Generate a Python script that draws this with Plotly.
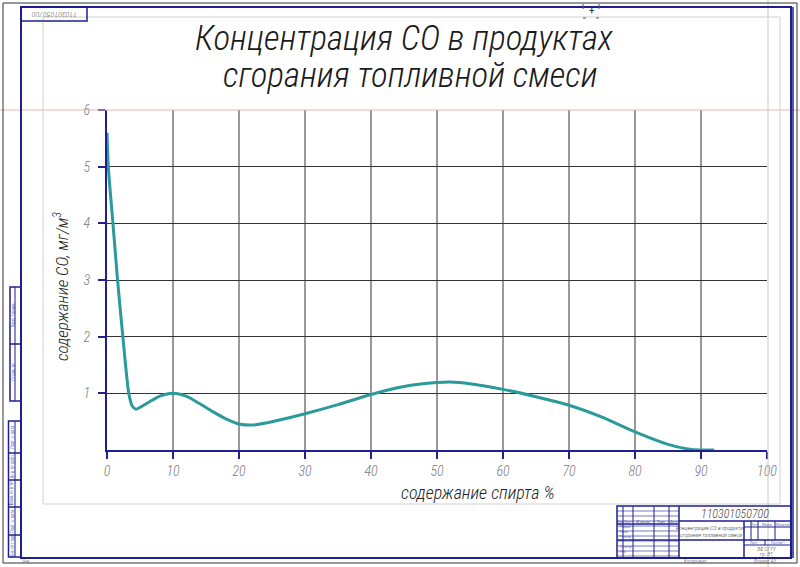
import plotly.graph_objects as go

# ---- data ----
spirit_pct = [0, 0.2, 0.9, 1.6, 2.4, 3.3, 3.8, 4.4, 6, 8, 10, 12, 14, 16, 18, 20, 22, 25,
              30, 35, 40, 45, 50, 52, 55, 60, 65, 70, 75, 80, 85, 88, 90, 92]
co_content = [5.6, 5.0, 4.0, 3.0, 2.0, 1.0, 0.78, 0.72, 0.82, 0.95, 1.0, 0.95, 0.82, 0.68, 0.55,
              0.46, 0.44, 0.5, 0.64, 0.8, 0.98, 1.12, 1.19, 1.2, 1.17, 1.07, 0.94, 0.79,
              0.58, 0.32, 0.1, 0.02, 0.0, 0.0]
x_ticks = [0, 10, 20, 30, 40, 50, 60, 70, 80, 90, 100]
y_ticks = [1, 2, 3, 4, 5, 6]

title_1 = "Концентрация СО в продуктах"
title_2 = "сгорания топливной смеси"
y_title = "содержание СО, мг/м<sup>3</sup>"
x_title = "содержание спирта %"
doc_code = "110301050700"

FONT = "Roboto Condensed, Liberation Sans Narrow, sans-serif"
NAVY = "#1f1f8f"
GRID = "#333333"
TEAL = "#2a9a9a"

W, H = 800, 567
L, R, T, B = 107, 33, 110, 117
PW, PH = W - L - R, H - T - B


def PX(p):
    return (p - L) / PW


def PY(p):
    return (H - B - p) / PH


shapes = []
annotations = []


def seg(x0, y0, x1, y1, color=NAVY, width=1.0, dash="solid"):
    shapes.append(dict(type="line", xref="paper", yref="paper",
                       x0=PX(x0), y0=PY(y0), x1=PX(x1), y1=PY(y1),
                       line=dict(color=color, width=width, dash=dash), layer="above"))


def rect(x0, y0, x1, y1, color=NAVY, width=1.0):
    shapes.append(dict(type="rect", xref="paper", yref="paper",
                       x0=PX(x0), y0=PY(y0), x1=PX(x1), y1=PY(y1),
                       line=dict(color=color, width=width), layer="above"))


def txt(x, y, s, size, color="#222", angle=0, italic=True, xanchor="center", weight=300):
    annotations.append(dict(xref="paper", yref="paper", x=PX(x), y=PY(y), text=s,
                            showarrow=False, textangle=angle, xanchor=xanchor, yanchor="middle",
                            font=dict(family=FONT, size=size, color=color, weight=weight,
                                      style="italic" if italic else "normal")))


# ---- page / drawing frame ----
seg(0, 110, 800, 110, color="#e2b8b8", width=1)          # construction line (pink)
seg(768, 0, 768, 567, color="#c8c8c8", width=1)          # construction line (gray)
rect(43, 17, 780, 504, color="#d0d0d0", width=1)          # light inner rectangle
rect(3, 3, 797, 563, color="#333333", width=1)            # outer thin frame
rect(21, 7, 791, 558, color=NAVY, width=2)                # main frame
seg(793, 7, 793, 558, color=NAVY, width=1.5)
rect(21, 7, 87, 21, color=NAVY, width=1.5)                # small top-left box
txt(54, 14, doc_code, 8, color="#666", angle=180)
# small cross marker at top
txt(591, 11, "+", 11, color="#333", italic=False, weight=400)
seg(583, 4, 583, 9, color="#555", width=1)
seg(599, 4, 599, 9, color="#555", width=1)
seg(583, 18, 586, 18, color="#555", width=1)
seg(596, 18, 599, 18, color="#555", width=1)

# ---- left margin strips ----
rect(10, 287, 21, 401, width=1.5)
seg(10, 344, 21, 344, width=1.5)
seg(15, 287, 15, 401, width=1)
txt(12.5, 315, "Перв. примен.", 4.5, color=NAVY, angle=-90, italic=False)
txt(12.5, 372, "Справ. №", 4.5, color=NAVY, angle=-90, italic=False)
rect(8.5, 421, 21, 557, width=1.5)
seg(15, 421, 15, 557, width=1)
for yy in [453, 480, 507, 535]:
    seg(8.5, yy, 21, yy, width=1.5)
for (y0, y1, s) in [(421, 453, "Подп. и дата"), (453, 480, "Инв. № дубл."),
                    (480, 507, "Взам. инв. №"), (507, 535, "Подп. и дата"),
                    (535, 557, "Инв. № подл.")]:
    txt(11.8, (y0 + y1) / 2, s, 4.5, color=NAVY, angle=-90, italic=False)
txt(26, 561, "Инв.", 4.5, color="#666", italic=False)

# ---- title block (bottom right) ----
rect(617, 506, 791, 558, width=1.5)
seg(679, 506, 679, 558, width=1.5)
xs = [617, 623, 633, 654, 669, 679]
for xx in xs[1:-1]:
    seg(xx, 506, xx, 558, width=1)
for yy in range(511, 558, 5):
    seg(617, yy, 679, yy, color=NAVY, width=0.6)
seg(617, 524, 679, 524, width=1.5)
seg(617, 540, 679, 540, width=1.5)
for i, s in enumerate(["Изм.", "Лист", "№ докум.", "Подп.", "Дата"]):
    txt((xs[i] + xs[i + 1]) / 2, 521.5, s, 3.8, color=NAVY, italic=False)
for s, yy in [("Разраб.", 526.5), ("Пров.", 531.5), ("Т.контр.", 536.5),
              ("Н.контр.", 546.5), ("Утв.", 551.5)]:
    txt(618, yy, s, 3.6, color=NAVY, italic=False, xanchor="left")
seg(679, 521, 791, 521, width=1.5)
seg(679, 540, 791, 540, width=1.5)
seg(744, 521, 744, 558, width=1.5)
seg(744, 527, 791, 527, width=1)
seg(744, 545, 791, 545, width=1)
for xx in [751, 758, 775]:
    seg(xx, 521, xx, 540, width=1)
seg(765, 540, 765, 545, width=1)
txt(735, 513.5, doc_code, 12, color="#444")
txt(711, 527.5, "Концентрация СО в продуктах", 5.8, color="#333")
txt(711, 535, "сгорания топливной смеси", 5.8, color="#333")
txt(754.5, 524, "Лит.", 3.8, color=NAVY, italic=False)
txt(766.5, 524, "Масса", 3.8, color=NAVY, italic=False)
txt(783, 524, "Масштаб", 3.8, color=NAVY, italic=False)
txt(754, 542.5, "Лист", 3.8, color=NAVY, italic=False)
txt(778, 542.5, "Листов 1", 3.8, color=NAVY, italic=False)
txt(767, 549, "ЗФ СГТУ", 5.5, color="#444")
txt(767, 554, "гр. ЭТ", 5.5, color="#444")
txt(695, 561, "Копировал", 5, color="#555", italic=False)
txt(765, 561, "Формат A3", 5, color="#555", italic=False)

# ---- titles ----
txt(404, 38, title_1, 35, color="#1a1a1a")
txt(410, 76, title_2, 35, color="#1a1a1a")
txt(61, 287, y_title, 17, color="#222", angle=-90)
txt(478, 492, x_title, 18, color="#222")

# ---- vertical grid lines (from x tick values, except the ends) ----
for xv in x_ticks[1:-1]:
    shapes.append(dict(type="line", xref="x", yref="y", x0=xv, x1=xv, y0=0, y1=6,
                       line=dict(color=GRID, width=1), layer="below"))

fig = go.Figure()
fig.add_trace(go.Scatter(x=spirit_pct, y=co_content, mode="lines",
                         line=dict(color=TEAL, width=3, shape="spline", smoothing=0.7),
                         hoverinfo="skip", showlegend=False))

tickfont = dict(family=FONT, size=14, color="#7a7a7a", style="italic", weight=300)
fig.update_layout(
    width=W, height=H,
    margin=dict(l=L, r=R, t=T, b=B, autoexpand=False),
    paper_bgcolor="white", plot_bgcolor="white",
    showlegend=False,
    shapes=shapes, annotations=annotations,
    xaxis=dict(range=[0, 100], tickvals=x_ticks, ticktext=[str(v) for v in x_ticks],
               showgrid=False, zeroline=False, showline=True, linecolor=NAVY, linewidth=2,
               ticks="outside", ticklen=7, tickwidth=2, tickcolor=NAVY, tickfont=tickfont),
    yaxis=dict(range=[0, 6], tickvals=y_ticks, ticktext=[str(v) for v in y_ticks],
               showgrid=True, gridcolor=GRID, gridwidth=1, zeroline=False,
               showline=True, linecolor=NAVY, linewidth=2,
               ticks="outside", ticklen=7, tickwidth=1.5, tickcolor=NAVY,
               ticklabelstandoff=5, tickfont=tickfont),
)

fig.write_html("out.html", config={"displayModeBar": False},
               post_script="document.body.style.margin='0px';")
